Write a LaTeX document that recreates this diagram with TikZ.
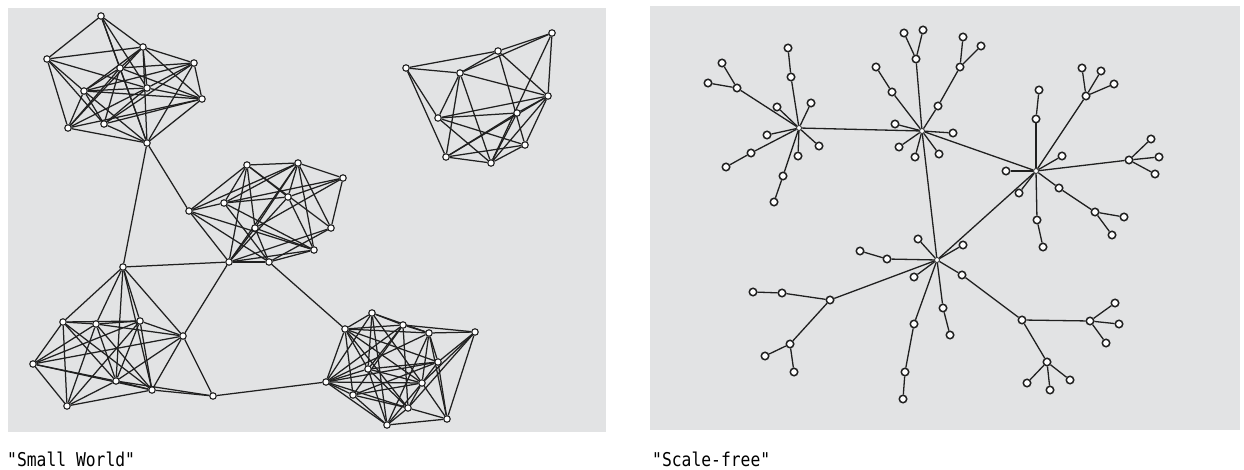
\documentclass[tikz,border=0pt]{standalone}
\usepackage{fontspec}
\newfontfamily\labfont[FakeStretch=0.86]{DejaVu Sans Mono}
\pgfdeclarelayer{bg}
\pgfdeclarelayer{edges}
\pgfsetlayers{bg,edges,main}
\definecolor{panelgray}{RGB}{226,227,228}
\definecolor{linegray}{RGB}{32,32,32}
\tikzset{
  sw/.style={circle,draw=linegray,fill=white,line width=1.1pt,inner sep=0pt,minimum size=6.5pt},
  lf/.style={circle,draw=linegray,fill=white,line width=1.5pt,inner sep=0pt,minimum size=7.5pt},
  hub/.style={circle,draw=linegray,fill=white,line width=0.8pt,inner sep=0pt,minimum size=5pt},
  edge/.style={draw=linegray,line width=1.25pt},
  sedge/.style={draw=linegray,line width=1.3pt},
  panel/.style={fill=panelgray,draw=none},
  lab/.style={anchor=west,inner sep=0pt,font=\labfont\fontsize{19}{21}\selectfont,text=black}
}
\begin{document}
\begin{tikzpicture}[x=1pt,y=-1pt]
\useasboundingbox (0,0) rectangle (1244,470);
\begin{pgfonlayer}{bg}
\fill[white] (0,0) rectangle (1244,470);
\path[panel] (8,8) rectangle (606,432);
\path[panel] (650,6) rectangle (1240,430);
\end{pgfonlayer}
% ---------------- Small world ----------------
% cluster 1
\node[sw] (P1) at (101,16) {};
\node[sw] (P2) at (47,59) {};
\node[sw] (P3) at (143,47) {};
\node[sw] (P4) at (194,63) {};
\node[sw] (P5) at (120,68) {};
\node[sw] (P6) at (147,88) {};
\node[sw] (P7) at (84,91) {};
\node[sw] (P8) at (202,99) {};
\node[sw] (P9) at (68,128) {};
\node[sw] (P10) at (104,124) {};
\node[sw] (P11) at (147,143) {};
% cluster 2
\node[sw] (Q1) at (406,68) {};
\node[sw] (Q2) at (498,51) {};
\node[sw] (Q3) at (552,33) {};
\node[sw] (Q4) at (460,73) {};
\node[sw] (Q5) at (548,96) {};
\node[sw] (Q6) at (438,118) {};
\node[sw] (Q7) at (517,113) {};
\node[sw] (Q8) at (525,145) {};
\node[sw] (Q9) at (446,157) {};
\node[sw] (Q10) at (491,163) {};
% cluster 3
\node[sw] (M1) at (189,211) {};
\node[sw] (M2) at (247,165) {};
\node[sw] (M3) at (298,163) {};
\node[sw] (M4) at (343,178) {};
\node[sw] (M5) at (224,203) {};
\node[sw] (M6) at (288,197) {};
\node[sw] (M7) at (255,228) {};
\node[sw] (M8) at (331,228) {};
\node[sw] (M9) at (314,250) {};
\node[sw] (M10) at (229,262) {};
\node[sw] (M11) at (269,262) {};
% cluster 4
\node[sw] (L1) at (123,267) {};
\node[sw] (L2) at (63,322) {};
\node[sw] (L3) at (96,324) {};
\node[sw] (L4) at (140,321) {};
\node[sw] (L5) at (183,336) {};
\node[sw] (L7) at (33,364) {};
\node[sw] (L8) at (116,381) {};
\node[sw] (L9) at (152,390) {};
\node[sw] (L10) at (67,406) {};
\node[sw] (L11) at (213,396) {};
% cluster 5
\node[sw] (R1) at (345,329) {};
\node[sw] (R2) at (372,313) {};
\node[sw] (R3) at (403,325) {};
\node[sw] (R4) at (429,333) {};
\node[sw] (R5) at (475,332) {};
\node[sw] (R6) at (326,382) {};
\node[sw] (R7) at (368,369) {};
\node[sw] (R8) at (438,362) {};
\node[sw] (R9) at (422,383) {};
\node[sw] (R10) at (353,395) {};
\node[sw] (R11) at (408,408) {};
\node[sw] (R12) at (387,425) {};
\node[sw] (R13) at (447,419) {};
\begin{pgfonlayer}{edges}
\foreach \a/\b in {P1/P2,P1/P3,P1/P5,P1/P6,P1/P11,P2/P3,P2/P7,P2/P9,P2/P10,P2/P6,
  P3/P4,P3/P5,P3/P6,P3/P7,P3/P8,P3/P9,P3/P11,P4/P5,P4/P6,P4/P7,P4/P8,P4/P11,P4/P10,
  P5/P7,P5/P8,P5/P9,P5/P10,P5/P11,P6/P7,P6/P8,P6/P10,P6/P9,P7/P8,P7/P10,P7/P11,P7/P9,
  P8/P10,P8/P11,P8/P9,P9/P11,P10/P11,
  Q1/Q2,Q1/Q4,Q1/Q6,Q1/Q9,Q2/Q3,Q2/Q4,Q2/Q5,Q2/Q8,Q3/Q4,Q3/Q5,Q3/Q10,Q4/Q5,Q4/Q6,
  Q4/Q9,Q4/Q10,Q5/Q6,Q5/Q7,Q5/Q8,Q5/Q9,Q5/Q10,Q6/Q7,Q6/Q8,Q6/Q10,Q7/Q9,Q7/Q10,Q8/Q9,Q9/Q10,Q8/Q10,
  M1/M2,M1/M5,M1/M10,M1/M11,M1/M9,M1/M3,M2/M3,M2/M5,M2/M6,M2/M7,M2/M8,M2/M10,
  M3/M4,M3/M5,M3/M7,M3/M8,M3/M9,M3/M10,M3/M6,M4/M5,M4/M6,M4/M8,M4/M7,M5/M6,M5/M9,
  M5/M11,M6/M10,M6/M9,M7/M9,M7/M10,M7/M11,M8/M10,M8/M11,M9/M10,M9/M11,M10/M11,
  L1/L2,L1/L3,L1/L4,L1/L5,L1/L8,L1/L9,L2/L3,L2/L4,L2/L7,L2/L8,L2/L9,L2/L10,
  L3/L4,L3/L5,L3/L7,L3/L8,L3/L9,L3/L10,L4/L5,L4/L8,L4/L9,L4/L10,L4/L7,L5/L7,L5/L8,
  L5/L9,L5/L11,L7/L8,L7/L9,L7/L10,L8/L10,L8/L9,L8/L11,L9/L10,L9/L11,
  R1/R2,R1/R3,R1/R4,R1/R6,R1/R7,R1/R9,R1/R10,R1/R11,R1/R8,R2/R3,R2/R4,R2/R7,R2/R9,
  R2/R12,R2/R6,R3/R4,R3/R5,R3/R6,R3/R7,R3/R11,R3/R10,R4/R5,R4/R8,R4/R9,R4/R6,R4/R12,
  R4/R13,R5/R8,R5/R9,R5/R11,R5/R13,R6/R7,R6/R9,R6/R10,R6/R11,R6/R12,R6/R8,R7/R8,
  R7/R9,R7/R11,R7/R12,R8/R9,R8/R13,R8/R10,R9/R10,R9/R11,R9/R13,R9/R12,R10/R11,
  R10/R12,R11/R12,R11/R13,R12/R13,
  P11/L1,P11/M1,L1/M10,M10/L5,M11/R1,L11/R6}
  \draw[edge] (\a) -- (\b);
\end{pgfonlayer}
% ---------------- Scale-free ----------------
\node[hub] (HA) at (799,128) {};
\node[lf] (A1) at (791,77) {};
\node[lf] (A1a) at (788,48) {};
\node[lf] (A2) at (737,88) {};
\node[lf] (A2a) at (722,63) {};
\node[lf] (A2b) at (708,83) {};
\node[lf] (A3) at (777,107) {};
\node[lf] (A4) at (811,103) {};
\node[lf] (A5) at (767,135) {};
\node[lf] (A6) at (751,153) {};
\node[lf] (A6a) at (726,167) {};
\node[lf] (A7) at (798,156) {};
\node[lf] (A8) at (819,146) {};
\node[lf] (A9) at (783,176) {};
\node[lf] (A9a) at (774,202) {};
\node[hub] (HB) at (922,131) {};
\node[lf] (B1) at (916,59) {};
\node[lf] (B1a) at (904,33) {};
\node[lf] (B1b) at (923,30) {};
\node[lf] (B2) at (892,92) {};
\node[lf] (B2a) at (876,67) {};
\node[lf] (B3) at (895,124) {};
\node[lf] (B4) at (899,147) {};
\node[lf] (B5) at (915,157) {};
\node[lf] (B6) at (938,106) {};
\node[lf] (B6a) at (960,67) {};
\node[lf] (B6b) at (963,37) {};
\node[lf] (B6c) at (981,46) {};
\node[lf] (B7) at (953,133) {};
\node[lf] (B8) at (939,154) {};
\node[hub] (HC) at (1036,171) {};
\node[lf] (C1) at (1036,119) {};
\node[lf] (C1a) at (1039,90) {};
\node[lf] (C2) at (1086,96) {};
\node[lf] (C2a) at (1082,68) {};
\node[lf] (C2b) at (1101,71) {};
\node[lf] (C2c) at (1114,84) {};
\node[lf] (C3) at (1062,156) {};
\node[lf] (C4) at (1129,160) {};
\node[lf] (C4a) at (1151,139) {};
\node[lf] (C4b) at (1159,157) {};
\node[lf] (C4c) at (1155,174) {};
\node[lf] (C5) at (1006,171) {};
\node[lf] (C6) at (1019,193) {};
\node[lf] (C7) at (1059,188) {};
\node[lf] (C7a) at (1095,212) {};
\node[lf] (C7b) at (1124,217) {};
\node[lf] (C7c) at (1112,235) {};
\node[lf] (C8) at (1037,220) {};
\node[lf] (C8a) at (1043,247) {};
\node[hub] (HD) at (937,260) {};
\node[lf] (D1) at (918,239) {};
\node[lf] (D2) at (887,259) {};
\node[lf] (D2a) at (860,251) {};
\node[lf] (D3) at (914,277) {};
\node[lf] (D4) at (830,300) {};
\node[lf] (D4a) at (782,293) {};
\node[lf] (D4b) at (753,292) {};
\node[lf] (D4c) at (790,344) {};
\node[lf] (D4d) at (765,356) {};
\node[lf] (D4e) at (794,372) {};
\node[lf] (D5) at (914,324) {};
\node[lf] (D5a) at (905,372) {};
\node[lf] (D5b) at (903,399) {};
\node[lf] (D6) at (943,308) {};
\node[lf] (D6a) at (950,335) {};
\node[lf] (D7) at (963,245) {};
\node[lf] (D8) at (962,275) {};
\node[lf] (D8a) at (1022,320) {};
\node[lf] (D8b) at (1090,321) {};
\node[lf] (D8c) at (1115,303) {};
\node[lf] (D8d) at (1119,324) {};
\node[lf] (D8e) at (1106,343) {};
\node[lf] (D8f) at (1047,362) {};
\node[lf] (D8g) at (1027,383) {};
\node[lf] (D8h) at (1050,390) {};
\node[lf] (D8i) at (1070,380) {};
\begin{pgfonlayer}{edges}
\foreach \a/\b in {HA/HB,HB/HC,HB/HD,HC/HD,
  HA/A1,A1/A1a,HA/A2,A2/A2a,A2/A2b,HA/A3,HA/A4,HA/A5,HA/A6,A6/A6a,HA/A7,HA/A8,HA/A9,A9/A9a,
  HB/B1,B1/B1a,B1/B1b,HB/B2,B2/B2a,HB/B3,HB/B4,HB/B5,HB/B6,B6/B6a,B6a/B6b,B6a/B6c,HB/B7,HB/B8,
  HC/C1,C1/C1a,HC/C2,C2/C2a,C2/C2b,C2/C2c,HC/C3,HC/C4,C4/C4a,C4/C4b,C4/C4c,HC/C5,HC/C6,
  HC/C7,C7/C7a,C7a/C7b,C7a/C7c,HC/C8,C8/C8a,
  HD/D1,HD/D2,D2/D2a,HD/D3,HD/D4,D4/D4a,D4a/D4b,D4/D4c,D4c/D4d,D4c/D4e,HD/D5,D5/D5a,D5a/D5b,
  HD/D6,D6/D6a,HD/D7,HD/D8,D8/D8a,D8a/D8b,D8b/D8c,D8b/D8d,D8b/D8e,D8a/D8f,D8f/D8g,D8f/D8h,D8f/D8i}
  \draw[sedge] (\a) -- (\b);
\end{pgfonlayer}
% labels
\node[lab] (lsw) at (7,459) {"Small World"};
\node[lab] (lsf) at (652,459) {"Scale-free"};
\end{tikzpicture}
\end{document}
